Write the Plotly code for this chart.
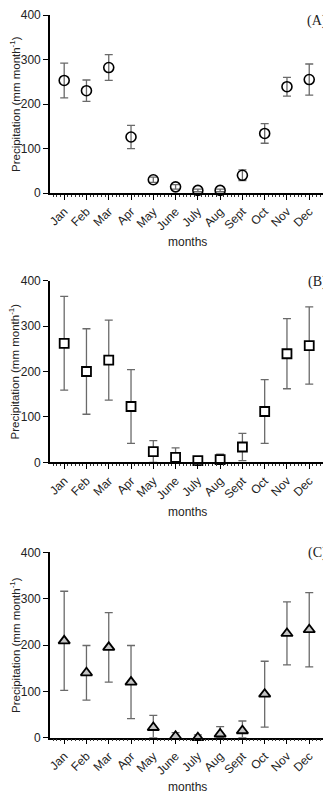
import plotly.graph_objects as go

months = ["Jan", "Feb", "Mar", "Apr", "May", "June", "July", "Aug", "Sept", "Oct", "Nov", "Dec"]

mean_a = [253, 230, 282, 126, 30, 14, 6, 6, 40, 134, 239, 255]
sd_a = [39, 24, 29, 26, 6, 5, 3, 3, 12, 22, 21, 35]

mean_b = [262, 200, 225, 123, 24, 11, 4, 6, 34, 112, 239, 257]
sd_b = [103, 94, 88, 81, 24, 21, 9, 12, 30, 70, 77, 85]

mean_c = [209, 140, 195, 120, 22, 3, 0, 8, 15, 94, 225, 233]
sd_c = [107, 59, 75, 79, 26, 8, 6, 16, 21, 71, 68, 80]

panel_labels = ["(A)", "(B)", "(C)"]
y_ticks = [0, 100, 200, 300, 400]

# the page body has an 8px margin; the figure is sized and placed to compensate
OFF = 8
W, H = 331 - OFF, 800 - OFF
FONT = "Liberation Sans, Arial, sans-serif"

# reference pixel geometry of each panel: (px at 400, px at 0)
panels_px = [(8, 189.3), (278.3, 463.5), (555, 743.7)]
x_left_px, x_right_px = 47.3, 325


def px_x(p):
    return (p - OFF) / W


def px_y(p):
    return min(1.0, max(0.0, 1 - (p - OFF) / H))


markers = [
    dict(symbol="circle-open", size=10, color="black", line=dict(width=1.6, color="black")),
    dict(symbol="square", size=9, color="white", line=dict(width=1.8, color="black")),
    dict(symbol="triangle-up", size=10, color="#c4c4c4", line=dict(width=1.8, color="black")),
]
series = [(mean_a, sd_a), (mean_b, sd_b), (mean_c, sd_c)]
label_y_px = [14, 280, 556]

fig = go.Figure()
xs = list(range(len(months)))
annotations = []
for i, ((mean, sd), mk) in enumerate(zip(series, markers)):
    n = i + 1
    xa = "x" if n == 1 else f"x{n}"
    ya = "y" if n == 1 else f"y{n}"
    minus = [min(s, m) for m, s in zip(mean, sd)]
    fig.add_trace(go.Scatter(
        x=xs, y=mean, mode="markers", xaxis=xa, yaxis=ya,
        marker=mk, cliponaxis=False, showlegend=False,
        error_y=dict(type="data", array=sd, arrayminus=minus, symmetric=False,
                     color="#6a6a6a", thickness=1.3, width=4),
    ))
    top_px, bot_px = panels_px[i]
    dom_y = [px_y(bot_px), px_y(top_px)]
    dom_x = [px_x(x_left_px), px_x(x_right_px)]
    axis_common = dict(showgrid=False, zeroline=False, showline=True, linecolor="black",
                       linewidth=1.5, ticks="outside", tickcolor="black", tickwidth=1.3,
                       ticklen=5, tickfont=dict(family=FONT, size=12, color="#222"))
    fig.layout[f"xaxis{'' if n == 1 else n}"] = dict(
        domain=dom_x, range=[-0.64, 11.71], anchor=ya,
        tickmode="array", tickvals=xs, ticktext=months, tickangle=-45,
        minor=dict(ticks="outside", ticklen=2, tickcolor="#333", tickwidth=1, dtick=1 / 6, tick0=0),
        **axis_common)
    fig.layout[f"yaxis{'' if n == 1 else n}"] = dict(
        domain=dom_y, range=[0, 400], anchor=xa,
        tickmode="array", tickvals=y_ticks, **axis_common)
    mid_px = (top_px + bot_px) / 2
    annotations.append(dict(
        text="Precipitation (mm month<sup>-1</sup>)", textangle=-90,
        x=px_x(12), y=px_y(mid_px), xref="paper", yref="paper",
        showarrow=False, font=dict(family=FONT, size=11.5, color="#222"),
        xanchor="center", yanchor="middle"))
    annotations.append(dict(
        text="months", x=px_x((x_left_px + x_right_px) / 2), y=px_y(bot_px + 50),
        xref="paper", yref="paper", showarrow=False,
        font=dict(family=FONT, size=12, color="#222"), xanchor="center", yanchor="middle"))
    annotations.append(dict(
        text=panel_labels[i], x=px_x(329), y=px_y(label_y_px[i]),
        xref="paper", yref="paper", showarrow=False,
        font=dict(family="Liberation Serif, Times New Roman, serif", size=14, color="#222"),
        xanchor="right", yanchor="middle"))

fig.update_layout(
    width=W, height=H, autosize=False,
    margin=dict(l=0, r=0, t=0, b=0),
    paper_bgcolor="white", plot_bgcolor="white",
    annotations=annotations,
)

fig.write_html("out.html")
